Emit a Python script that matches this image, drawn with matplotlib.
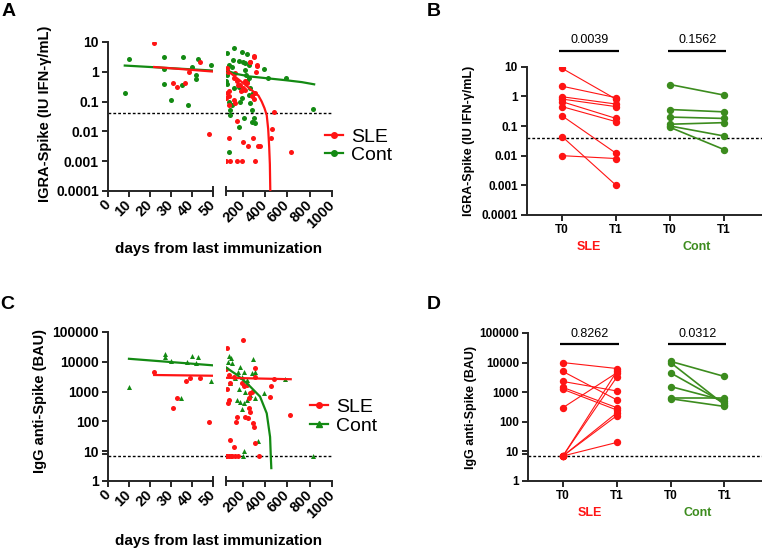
import numpy as np
import matplotlib.pyplot as plt
from matplotlib.lines import Line2D

plt.rcParams['font.family'] = ['Liberation Sans', 'DejaVu Sans']

RED = '#ff1414'
GREEN = '#138a13'
GREEN2 = '#3c8c1e'
AXC = '#262626'

# ---------------- panel A: IGRA-Spike vs days since last dose
a_sle_days = [21.7, 30.8, 32.9, 36.8, 38.6, 44, 48,
              298, 269, 329, 320, 59, 68, 134, 119, 149, 179, 200, 224, 188, 74,
              59, 74, 52, 119, 128, 74, 298, 314, 284, 239, 484, 460, 451, 630,
              355, 149, 80, 292, 200, 245, 337, 52, 89, 149, 194, 307, 265, 331,
              304, 220, 160]
a_sle_vals = [9.3, 0.41, 0.32, 0.41, 1.0, 2.2, 0.008,
              3.2, 2.2, 1.6, 1.0, 1.3, 0.95, 0.93, 0.6, 0.49, 0.36, 0.28, 0.25, 0.23, 0.22,
              0.19, 0.15, 0.13, 0.11, 0.087, 0.077, 0.12, 0.19, 0.15, 0.41, 0.046, 0.0125, 0.006, 0.0021,
              0.0032, 0.022, 0.0062, 0.0062, 0.0043, 0.0032, 0.0032, 0.001, 0.001, 0.001, 0.001, 0.001, 2.1, 1.66,
              3.3, 0.51, 0.36]
a_cont_days = [7.9, 9.8, 26.8, 26.8, 26.8, 29.8, 35.9, 35.4, 38.1, 39.8, 42, 42, 43, 48.9,
               59, 119, 194, 239, 113, 170, 200, 224, 254, 80, 59, 104, 224, 391, 230, 254,
               52, 59, 119, 164, 194, 239, 269, 290, 254, 194, 179, 80, 104, 269, 284, 89,
               89, 209, 299, 284, 164, 314, 80, 430, 588, 833, 56]
a_cont_vals = [0.19, 2.7, 3.1, 1.2, 0.4, 0.115, 3.1, 0.35, 0.079, 1.45, 0.76, 0.59, 2.6, 1.65,
               4.3, 6.2, 4.5, 3.9, 2.5, 2.3, 2.1, 1.9, 1.7, 1.7, 1.15, 1.4, 1.15, 1.25, 0.78, 0.63,
               0.49, 0.38, 0.28, 0.32, 0.25, 0.49, 0.28, 0.19, 0.17, 0.13, 0.1, 0.1, 0.077, 0.087, 0.052, 0.052,
               0.036, 0.028, 0.028, 0.021, 0.0145, 0.019, 0.0021, 0.64, 0.6, 0.056, 0.8]

# fitted curves as drawn in the figure (early and late segments)
a_sle_fit_early_days = [22, 50]
a_sle_fit_early_vals = [1.45, 1.02]
a_cont_fit_early_days = [8, 50]
a_cont_fit_early_vals = [1.62, 1.1]
a_sle_fit_late_days = [50, 100, 150, 200, 250, 300, 340, 370, 395, 415, 428, 437, 443, 447]
a_sle_fit_late_vals = [1.2, 0.85, 0.6, 0.43, 0.3, 0.21, 0.16, 0.1, 0.06, 0.035, 0.012, 0.003, 0.0008, 0.0001]
a_cont_fit_late_days = [50, 150, 260, 430, 590, 730, 840]
a_cont_fit_late_vals = [1.1, 0.84, 0.7, 0.6, 0.52, 0.45, 0.38]
igra_cutoff = 0.04

# ---------------- panel C: IgG anti-Spike vs days
c_sle_days = [21.9, 37, 38.9, 44, 32.9, 30.8, 47.9,
              200, 56, 52, 313, 74, 119, 89, 194, 209, 56, 238, 269, 283, 457, 448, 253,
              74, 68, 259, 268, 149, 140, 224, 248, 292, 298, 627, 89, 119, 313, 478, 313,
              52, 74, 104, 134, 155, 343, 60, 95]
c_sle_vals = [4700, 2200, 2900, 2900, 600, 285, 98,
              55000, 29000, 5600, 6100, 3600, 3200, 1900, 1900, 1500, 1200, 1700, 880, 1000, 1540, 680, 600,
              530, 430, 275, 210, 138, 93, 145, 126, 85, 63, 163, 23, 13.4, 19, 2600, 3200,
              7, 7, 7, 7, 7, 7, 7, 7]
c_cont_days = [9.8, 27, 27, 29.8, 37.8, 40, 42, 43, 48.9, 34.9,
               80, 98, 68, 104, 289, 179, 158, 208, 283, 313, 134, 194, 238, 89, 164, 224,
               149, 179, 238, 313, 209, 268, 194, 388, 582, 337, 209, 203, 833]
c_cont_vals = [1480, 18000, 14500, 10300, 9500, 15200, 9000, 14000, 2200, 600,
               16000, 13000, 10000, 9000, 12300, 6900, 4700, 4400, 4100, 4700, 2800, 3200, 2450, 1900, 1200, 1000,
               530, 460, 530, 600, 400, 770, 255, 880, 2600, 22, 10.2, 7, 7]

c_sle_fit_early_days = [22, 50]
c_sle_fit_early_vals = [3600, 3400]
c_cont_fit_early_days = [10, 50]
c_cont_fit_early_vals = [12600, 7600]
c_sle_fit_late_days = [50, 630]
c_sle_fit_late_vals = [2900, 2600]
c_cont_fit_late_days = [50, 100, 150, 200, 265, 355, 415, 445, 452, 456]
c_cont_fit_late_vals = [6500, 4800, 3600, 2500, 1500, 680, 186, 30, 6, 2.7]
igg_cutoff = 7

# ---------------- panel B: paired IGRA
b_sle_t0 = [8.8, 2.2, 0.97, 0.81, 0.66, 0.45, 0.22, 0.044, 0.01]
b_sle_t1 = [0.8, 0.9, 0.55, 0.45, 0.18, 0.14, 0.012, 0.001, 0.008]
b_cont_t0 = [2.5, 0.36, 0.2, 0.115, 0.1, 0.09]
b_cont_t1 = [1.1, 0.3, 0.18, 0.13, 0.046, 0.016]
b_pvals = ['0.0039', '0.1562']

# ---------------- panel D: paired IgG
d_sle_t0 = [10000, 5000, 2300, 1450, 1250, 300, 7, 7, 7, 7, 7]
d_sle_t1 = [6300, 550, 1100, 300, 250, 4500, 5000, 3200, 200, 160, 20]
d_cont_t0 = [11000, 10000, 4500, 1550, 650, 600]
d_cont_t1 = [3400, 380, 430, 520, 650, 330]
d_pvals = ['0.8262', '0.0312']

tick_pairs = ['T0', 'T1', 'T0', 'T1']
igra_ticks = [1e-4, 1e-3, 1e-2, 1e-1, 1, 10]
igra_labels = ['0.0001', '0.001', '0.01', '0.1', '1', '10']
igg_ticks = [1, 8, 10, 100, 1000, 10000, 100000]
igg_labels = ['1', '', '10', '100', '1000', '10000', '100000']


def style(ax):
    ax.set_yscale('log')
    ax.yaxis.set_minor_locator(plt.NullLocator())
    for s in ['top', 'right']:
        ax.spines[s].set_visible(False)
    for s in ['left', 'bottom']:
        ax.spines[s].set_linewidth(1.4)
        ax.spines[s].set_color(AXC)
    ax.tick_params(direction='out', length=4.5, width=1.4, color=AXC, pad=2)
    ax.patch.set_alpha(0)


def broken(fig, bottom, ylim, yticks, ylabels):
    axl = fig.add_axes([0.1417, bottom, 0.1378, 0.2714])
    axr = fig.add_axes([0.2966, bottom, 0.1391, 0.2714])
    for ax in (axl, axr):
        style(ax)
        ax.set_ylim(*ylim)
    axl.set_xlim(0, 50)
    axr.set_xlim(50, 1000)
    axl.set_yticks(yticks)
    axl.set_yticklabels(ylabels, fontsize=10, fontweight='bold')
    axr.spines['left'].set_visible(False)
    axr.tick_params(axis='y', which='both', left=False, labelleft=False)
    axl.set_xticks(range(0, 51, 10))
    axl.set_xticklabels([str(v) for v in range(0, 51, 10)])
    axr.set_xticks([200, 400, 600, 800, 1000])
    axr.set_xticklabels(['200', '400', '600', '800', '1000'])
    for ax in (axl, axr):
        plt.setp(ax.get_xticklabels(), rotation=45, ha='right', va='center',
                 rotation_mode='anchor', fontsize=10.5, fontweight='bold')
        ax.tick_params(axis='x', pad=4)
    # axis break marks
    axl.plot([1, 1], [-0.03, 0.03], transform=axl.transAxes, color=AXC, lw=1.4, clip_on=False)
    axr.plot([0, 0], [-0.03, 0.03], transform=axr.transAxes, color=AXC, lw=1.4, clip_on=False)
    return axl, axr


def scatter_split(axl, axr, days, vals, color, marker):
    days = np.array(days)
    vals = np.array(vals)
    early = days < 50
    axl.scatter(days[early], vals[early], s=13, color=color, marker=marker, linewidths=0, zorder=3)
    axr.scatter(days[~early], vals[~early], s=13, color=color, marker=marker, linewidths=0, zorder=3)


fig = plt.figure(figsize=(7.62, 5.49), dpi=100)

# ---- A
axl, axr = broken(fig, 0.6521, (1e-4, 10), igra_ticks, igra_labels)
scatter_split(axl, axr, a_cont_days, a_cont_vals, GREEN, 'o')
scatter_split(axl, axr, a_sle_days, a_sle_vals, RED, 'o')
axl.plot(a_cont_fit_early_days, a_cont_fit_early_vals, color=GREEN, lw=1.6, zorder=4)
axl.plot(a_sle_fit_early_days, a_sle_fit_early_vals, color=RED, lw=1.6, zorder=4)
axr.plot(a_cont_fit_late_days, a_cont_fit_late_vals, color=GREEN, lw=1.6, zorder=4)
axr.plot(a_sle_fit_late_days, a_sle_fit_late_vals, color=RED, lw=1.6, zorder=4)
axl.axhline(igra_cutoff, xmin=0, xmax=1.13, color='k', lw=1.0, ls=(0, (2, 1.5)), clip_on=False)
axr.axhline(igra_cutoff, color='k', lw=1.0, ls=(0, (2, 1.5)))
axl.set_ylabel('IGRA-Spike (IU IFN-γ/mL)', fontsize=10.5, fontweight='bold')
axl.yaxis.set_label_coords(-0.53, 0.52)
fig.text(219 / 762, 1 - 249 / 549, 'days from last immunization', ha='center', va='center',
         fontsize=11, fontweight='bold')
hA = [Line2D([], [], color=RED, marker='o', ms=4, lw=1.6),
      Line2D([], [], color=GREEN, marker='o', ms=4, lw=1.6)]
fig.legend(hA, ['SLE', 'Cont'], loc='upper left', bbox_to_anchor=(325 / 762, 1 - 128 / 549),
           frameon=False, fontsize=14, handlelength=0.95, handletextpad=0.4,
           labelspacing=0.05, borderpad=0, borderaxespad=0)

# ---- C
axl, axr = broken(fig, 0.1239, (1, 100000), igg_ticks, igg_labels)
scatter_split(axl, axr, c_cont_days, c_cont_vals, GREEN, '^')
scatter_split(axl, axr, c_sle_days, c_sle_vals, RED, 'o')
axl.plot(c_cont_fit_early_days, c_cont_fit_early_vals, color=GREEN, lw=1.6, zorder=4)
axl.plot(c_sle_fit_early_days, c_sle_fit_early_vals, color=RED, lw=1.6, zorder=4)
axr.plot(c_cont_fit_late_days, c_cont_fit_late_vals, color=GREEN, lw=1.6, zorder=4)
axr.plot(c_sle_fit_late_days, c_sle_fit_late_vals, color=RED, lw=1.6, zorder=4)
axl.axhline(igg_cutoff, xmin=0, xmax=1.13, color='k', lw=1.0, ls=(0, (2, 1.5)), clip_on=False)
axr.axhline(igg_cutoff, color='k', lw=1.0, ls=(0, (2, 1.5)))
axl.set_ylabel('IgG anti-Spike (BAU)', fontsize=10.5, fontweight='bold')
axl.yaxis.set_label_coords(-0.58, 0.54)
fig.text(219 / 762, 1 - 541 / 549, 'days from last immunization', ha='center', va='center',
         fontsize=11, fontweight='bold')
hC = [Line2D([], [], color=RED, marker='o', ms=4, lw=1.6),
      Line2D([], [], color=GREEN, marker='^', ms=4, lw=1.6)]
fig.legend(hC, ['SLE', 'Cont'], loc='upper left', bbox_to_anchor=(310 / 762, 1 - 398 / 549),
           frameon=False, fontsize=14, handlelength=0.95, handletextpad=0.4,
           labelspacing=0.1, borderpad=0, borderaxespad=0)


def paired(rect, ylim, yticks, ylabels, sle0, sle1, con0, con1, pvals, bar_y, cutoff, ylabel, ylab_x):
    ax = fig.add_axes(rect)
    style(ax)
    ax.set_ylim(*ylim)
    ax.set_xlim(-0.65, 3.7)
    ax.set_xticks([0, 1, 2, 3])
    ax.set_xticklabels(tick_pairs, fontsize=8.5, fontweight='bold')
    ax.set_yticks(yticks)
    ax.set_yticklabels(ylabels, fontsize=8.5, fontweight='bold')
    for a, b in zip(sle0, sle1):
        ax.plot([0, 1], [a, b], color=RED, lw=0.8, marker='o', ms=4.3, zorder=3)
    for a, b in zip(con0, con1):
        ax.plot([2, 3], [a, b], color=GREEN2, lw=1.2, marker='o', ms=4.3, zorder=3)
    ax.axhline(cutoff, color='k', lw=1.0, ls=(0, (2, 1.5)))
    for (x0, x1), p in zip([(-0.05, 1.05), (1.96, 3.04)], pvals):
        ax.plot([x0, x1], [bar_y, bar_y], color='k', lw=1.6, clip_on=False, solid_capstyle='butt')
        ax.annotate(p, ((x0 + x1) / 2, bar_y), xytext=(0, 3), textcoords='offset points',
                    ha='center', va='bottom', fontsize=9, annotation_clip=False)
    ax.text(0.5, -0.215, 'SLE', transform=ax.get_xaxis_transform(), color=RED,
            ha='center', va='center', fontsize=9, fontweight='bold')
    ax.text(2.5, -0.215, 'Cont', transform=ax.get_xaxis_transform(), color=GREEN2,
            ha='center', va='center', fontsize=9, fontweight='bold')
    ax.set_ylabel(ylabel, fontsize=9, fontweight='bold')
    ax.yaxis.set_label_coords(ylab_x, 0.5)
    return ax


paired([0.6916, 0.6084, 0.3084, 0.2701], (1e-4, 10), igra_ticks, igra_labels,
       b_sle_t0, b_sle_t1, b_cont_t0, b_cont_t1, b_pvals, 35, igra_cutoff,
       'IGRA-Spike (IU IFN-γ/mL)', -0.22)
paired([0.6929, 0.1239, 0.3071, 0.2696], (1, 100000), igg_ticks, igg_labels,
       d_sle_t0, d_sle_t1, d_cont_t0, d_cont_t1, d_pvals, 42600, igg_cutoff,
       'IgG anti-Spike (BAU)', -0.218)

for txt, x, y in [('A', 2, 3), ('B', 427, 3), ('C', 0, 296), ('D', 427, 296)]:
    fig.text(x / 762, 1 - y / 549, txt, ha='left', va='top', fontsize=14, fontweight='bold')

fig.savefig('out.png', dpi=100)
